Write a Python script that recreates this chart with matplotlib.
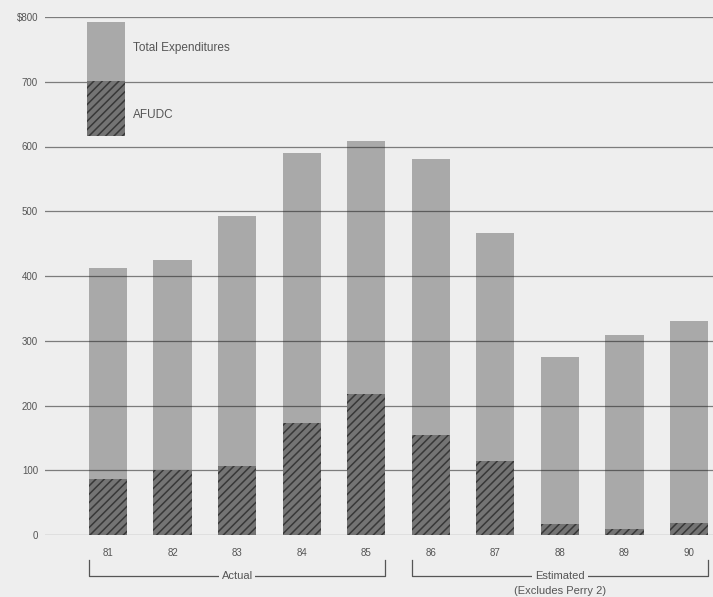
import matplotlib.pyplot as plt
import matplotlib.transforms as mtransforms
from matplotlib.patches import Rectangle
import numpy as np

# data ($ millions)
years = ['81', '82', '83', '84', '85', '86', '87', '88', '89', '90']
total = [413, 424, 493, 590, 608, 581, 466, 275, 309, 330]
afudc = [86, 101, 107, 173, 218, 154, 114, 17, 9, 18]
ytick_vals = [0, 100, 200, 300, 400, 500, 600, 700, 800]
ytick_labels = ['0', '100', '200', '300', '400', '500', '600', '700', '$800']

bg = '#eeeeee'
gray = '#a9a9a9'
dark = '#747474'
hatch_col = '#383838'
txt = '#555555'

plt.rcParams['hatch.linewidth'] = 1.1
plt.rcParams['font.family'] = ['Liberation Sans', 'DejaVu Sans']

fig = plt.figure(figsize=(7.13, 5.97), dpi=100, facecolor=bg)
ax = fig.add_axes([45/713, 1-535/597, 668/713, 518/597])
ax.set_facecolor(bg)

x = np.arange(len(years))
w = 0.59
ax.bar(x, total, width=w, color=gray, linewidth=0, zorder=2)
ax.bar(x, afudc, width=w, color=dark, edgecolor=hatch_col, hatch='////', linewidth=0, zorder=3)

ax.set_xlim(-0.975, 9.37)
ax.set_ylim(0, 800)
ax.set_yticks(ytick_vals)
ax.set_yticklabels(ytick_labels)
ax.set_xticks(x)
ax.set_xticklabels(years)
ax.tick_params(axis='both', length=0, labelsize=7, labelcolor=txt)
ax.tick_params(axis='y', pad=5)
ax.tick_params(axis='x', pad=9)
ax.grid(axis='y', color='#1e1e1e', linewidth=0.9, alpha=0.55, zorder=4)
ax.set_axisbelow(False)
for s in ax.spines.values():
    s.set_visible(False)

# legend swatches
ax.add_patch(Rectangle((0.063, 0.876), 0.057, 0.114, transform=ax.transAxes,
                       facecolor=gray, linewidth=0, zorder=5))
ax.add_patch(Rectangle((0.063, 0.770), 0.057, 0.106, transform=ax.transAxes,
                       facecolor=dark, edgecolor=hatch_col, hatch='////', linewidth=0, zorder=5))
ax.text(0.132, 0.940, 'Total Expenditures', transform=ax.transAxes, fontsize=8.5,
        color=txt, va='center', ha='left')
ax.text(0.132, 0.811, 'AFUDC', transform=ax.transAxes, fontsize=8.5,
        color=txt, va='center', ha='left')

# brackets under the axis
trans = mtransforms.blended_transform_factory(ax.transData, ax.transAxes)
y_top, y_bot = -0.048, -0.079
for i0, i1, label in [(0, 4, 'Actual'), (5, 9, 'Estimated')]:
    xa, xb = i0 - w/2, i1 + w/2
    ax.plot([xa, xa, xb, xb], [y_top, y_bot, y_bot, y_top], color='#555555',
            linewidth=0.9, transform=trans, clip_on=False)
    ax.text((xa + xb) / 2, y_bot, label, transform=trans, fontsize=8, color=txt,
            ha='center', va='center',
            bbox=dict(facecolor=bg, edgecolor='none', pad=2))
ax.text((5 - w/2 + 9 + w/2) / 2, -0.108, '(Excludes Perry 2)', transform=trans,
        fontsize=8, color=txt, ha='center', va='center')

fig.savefig('out.png', dpi=100, facecolor=bg)
